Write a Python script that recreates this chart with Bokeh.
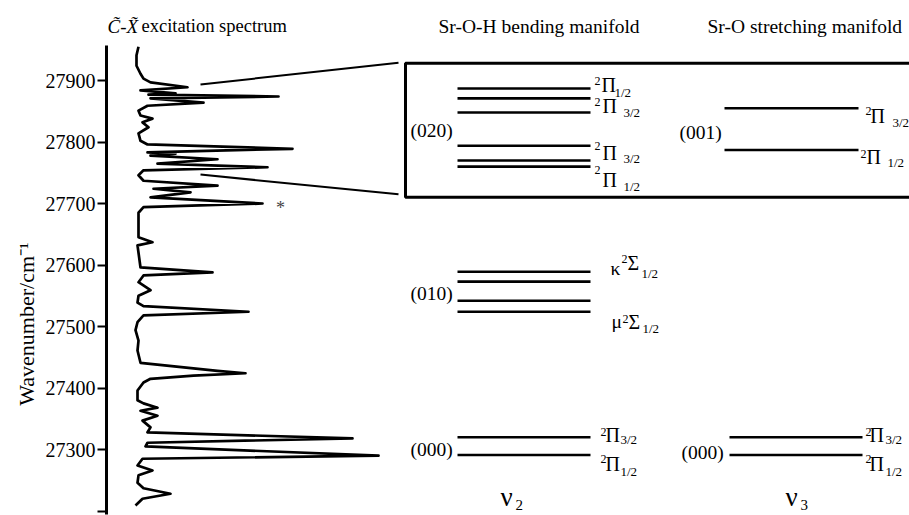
import math
from bokeh.plotting import figure
from bokeh.models import Range1d, FixedTicker, Title
from bokeh.core.properties import value
from bokeh.embed import file_html
from bokeh.resources import INLINE

# ---------------- data ----------------
# C-X excitation spectrum (wavenumber / cm-1, relative intensity)
spec_wavenumber = [27955, 27941, 27924, 27911, 27903, 27897, 27889, 27884, 27879, 27877,
                   27874, 27871, 27864, 27859, 27851, 27843, 27838, 27832, 27824, 27814,
                   27802, 27796, 27789, 27783, 27781, 27778, 27772, 27765, 27759, 27754,
                   27746, 27737, 27729, 27724, 27718, 27710, 27700, 27694, 27685, 27645,
                   27637, 27632, 27620, 27596, 27588, 27583, 27572, 27559, 27550, 27539,
                   27533, 27524, 27518, 27507, 27494, 27477, 27461, 27441, 27428, 27424,
                   27420, 27415, 27409, 27396, 27380, 27375, 27368, 27363, 27355, 27347,
                   27336, 27328, 27318, 27311, 27305, 27290, 27285, 27274, 27266, 27258,
                   27246, 27237, 27228, 27220, 27209]
spec_intensity = [3.2, 2.4, 2.4, 4.0, 5.2, 8.0, 22.8, 4.0, 18.0, 7.2,
                  59.2, 8.0, 29.2, 6.8, 3.2, 4.0, 8.8, 4.8, 7.2, 3.2,
                  4.0, 6.8, 64.8, 6.8, 18.0, 8.0, 34.8, 10.8, 54.8, 5.2,
                  3.2, 5.2, 34.8, 9.2, 24.0, 8.0, 52.8, 5.2, 3.2, 3.2,
                  8.8, 2.8, 3.2, 4.0, 32.8, 5.2, 3.2, 8.0, 3.2, 2.8,
                  5.2, 47.2, 5.2, 2.8, 2.0, 3.2, 2.8, 4.0, 34.8, 46.0,
                  25.2, 8.0, 5.2, 2.8, 2.8, 5.2, 10.8, 4.0, 10.8, 4.8,
                  8.0, 6.8, 88.8, 6.8, 6.0, 99.2, 4.8, 2.8, 8.8, 3.2,
                  2.8, 5.2, 16.0, 4.8, 2.0]

# energy levels (cm-1)
levels_v2_000 = [27320, 27291]
levels_v2_010 = [27589, 27573, 27542, 27524]
levels_v2_020 = [27887, 27871, 27848, 27794, 27770, 27760]
levels_v3_000 = [27320, 27291]
levels_v3_001 = [27855, 27787]

y_ticks = [27200, 27300, 27400, 27500, 27600, 27700, 27800, 27900]

FONT = "Liberation Serif"

# ---------------- figure ----------------
p = figure(width=909, height=515,
           x_range=Range1d(106, 909), y_range=Range1d(27192.7, 28030.1),
           x_axis_location=None, y_axis_location="left",
           output_backend="svg", toolbar_location=None,
           min_border_left=106, min_border_right=0,
           min_border_top=0, min_border_bottom=0)
p.outline_line_color = None
p.grid.visible = False
p.background_fill_color = "white"
p.border_fill_color = "white"

ax = p.yaxis[0]
ax.ticker = FixedTicker(ticks=y_ticks)
ax.bounds = (27195, 27957)
ax.major_label_overrides = {27200: ""}
ax.minor_tick_line_color = None
ax.major_tick_in = 0
ax.major_tick_out = 9
ax.major_tick_line_width = 2
ax.axis_line_width = 3
ax.major_label_text_font = "Times New Roman"
ax.major_label_text_font_size = "20px"
ax.major_label_text_color = "black"
ax.major_label_standoff = 2

# axis title as a vertical title in the left panel (em spaces shift it down)
ytitle = Title(text="Wavenumber/cm⁻¹" + "\u2003" * 6, align="center",
               text_font="serif", text_font_size="22px", text_font_style="normal",
               text_color="black", standoff=8)
p.add_layout(ytitle, "left")

# spectrum on its own intensity scale
p.extra_x_ranges = {"spec": Range1d(-9.6, 311.6)}
p.line(spec_intensity, spec_wavenumber, x_range_name="spec",
       line_width=2.7, line_color="black", line_join="round")


def levels(x0, x1, ys, lw=2.6):
    p.segment(x0=[x0] * len(ys), x1=[x1] * len(ys), y0=ys, y1=ys,
              line_color="black", line_width=lw)


levels(457, 590, levels_v2_020)
levels(457, 590, levels_v2_010)
levels(457, 590, levels_v2_000)
levels(724, 858, levels_v3_001)
levels(729, 862, levels_v3_000)

# inset box and connectors
p.line([915, 405, 405, 915], [27928, 27928, 27710, 27710], line_color="black", line_width=3)
p.segment(x0=[200, 200], y0=[27893.5, 27747], x1=[398, 398], y1=[27929, 27715],
          line_color="black", line_width=2)


def txt(x, y, s, size, align="left", baseline="middle", style="normal", color="black"):
    p.text(x=[x], y=[y], text=[s], text_font=value(FONT), text_font_size=size,
           text_align=align, text_baseline=baseline, text_font_style=style,
           text_color=color)


# titles
txt(107, 27988, "C\u0303-X\u0303", "19px", style="italic")
txt(141, 27988, "excitation spectrum", "18.5px")
txt(438, 27988, "Sr-O-H bending manifold", "19.5px")
txt(707, 27988, "Sr-O stretching manifold", "19.5px")

# vibrational labels
for x, y, s in [(431, 27819, "(020)"), (431, 27554, "(010)"), (431, 27300, "(000)"),
                (700, 27815, "(001)"), (702, 27295, "(000)")]:
    txt(x, y, s, "19.5px", align="center")

# term labels: (pre, x_pre, y_pre, x_main, y_main, main, x_sub, y_sub, sub)
terms = [
    ("2", 594, 27900, 601, 27893, "Π", 614, 27880, "1/2"),
    ("2", 594, 27865, 602, 27858, "Π", 623, 27848, "3/2"),
    ("2", 594, 27793, 602, 27782, "Π", 623, 27773, "3/2"),
    ("2", 594, 27754, 602, 27739, "Π", 623, 27728, "1/2"),
    ("2", 600, 27328, 605, 27324, "Π", 620, 27316, "3/2"),
    ("2", 600, 27284, 605, 27276, "Π", 620, 27264, "1/2"),
    ("2", 865, 27851, 870, 27843, "Π", 892, 27832, "3/2"),
    ("2", 860, 27781, 866, 27776, "Π", 887, 27767, "1/2"),
    ("2", 865, 27328, 869, 27324, "Π", 885, 27316, "3/2"),
    ("2", 865, 27284, 869, 27276, "Π", 885, 27264, "1/2"),
    ("2", 621, 27610, 627, 27603, "Σ", 641, 27587, "1/2"),
    ("2", 622, 27512, 628, 27508, "Σ", 642, 27496, "1/2"),
]
for pre, xp, yp, xm, ym, m, xs, ys, sb in terms:
    txt(xp, yp, pre, "12px")
    txt(xm, ym, m, "20px")
    txt(xs, ys, sb, "13px")

txt(610, 27595, "κ", "19.5px")
txt(611, 27508, "μ", "19.5px")

# normal mode labels
txt(500, 27222, "ν", "27px")
txt(515, 27210, "2", "15px")
txt(785, 27222, "ν", "27px")
txt(800, 27210, "3", "15px")

# asterisk
txt(280, 27692, "*", "18px", align="center", color="#444444")

open("out.html", "w").write(file_html(p, INLINE))
